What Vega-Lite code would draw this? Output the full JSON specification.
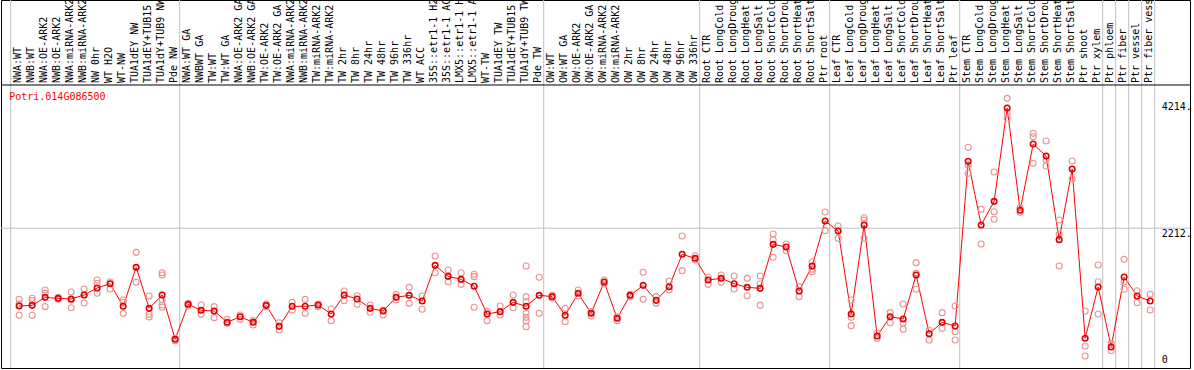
{
  "$schema": "https://vega.github.io/schema/vega-lite/v6.json",
  "width": 1189,
  "height": 368,
  "autosize": {"type": "none"},
  "padding": {"left": 1, "top": 0, "right": 4, "bottom": 2},
  "background": "white",
  "config": {
    "view": {"stroke": "black", "strokeWidth": 1},
    "font": "DejaVu Sans Mono"
  },
  "datasets": {
    "samples": [
      {"k": "00", "label": "NWA:WT", "mean": 916, "reps": [1027, 949, 761]},
      {"k": "01", "label": "NWB:WT", "mean": 927, "reps": [1044, 1005, 761]},
      {"k": "02", "label": "NWA:OE-ARK2", "mean": 1060, "reps": [1183, 1127, 905]},
      {"k": "03", "label": "NWB:OE-ARK2", "mean": 1044, "reps": [1060, 1027]},
      {"k": "04", "label": "NWA:miRNA-ARK2", "mean": 1033, "reps": [1149, 1016, 888]},
      {"k": "05", "label": "NWB:miRNA-ARK2", "mean": 1099, "reps": [1199, 1099, 966]},
      {"k": "06", "label": "NW 0hr", "mean": 1216, "reps": [1349, 1294, 1127]},
      {"k": "07", "label": "WT H2O", "mean": 1288, "reps": [1316, 1199]},
      {"k": "08", "label": "WT-NW", "mean": 911, "reps": [1016, 977, 794]},
      {"k": "09", "label": "TUA1dEY NW", "mean": 1560, "reps": [1810, 1310]},
      {"k": "10", "label": "TUA1dEY+TUB15 NW", "mean": 877, "reps": [1083, 777, 733]},
      {"k": "11", "label": "TUA1dY+TUB9 NW", "mean": 1099, "reps": [1471, 1432, 1016, 933, 894]},
      {"k": "12", "label": "Pde NW", "mean": 361, "reps": [378, 339]},
      {"k": "13", "label": "NWA:WT GA", "mean": 944, "reps": [960, 916]},
      {"k": "14", "label": "NWBWT GA", "mean": 844, "reps": [933, 777]},
      {"k": "15", "label": "TW:WT", "mean": 833, "reps": [905, 722]},
      {"k": "16", "label": "TW:WT GA", "mean": 644, "reps": [694, 627]},
      {"k": "17", "label": "NWA:OE-ARK2 GA", "mean": 738, "reps": [766, 694]},
      {"k": "18", "label": "NWB:OE-ARK2 GA", "mean": 644, "reps": [672, 600]},
      {"k": "19", "label": "TW:OE-ARK2", "mean": 927, "reps": [949, 905]},
      {"k": "20", "label": "TW:OE-ARK2 GA", "mean": 577, "reps": [638, 516]},
      {"k": "21", "label": "NWA:miRNA-ARK2", "mean": 911, "reps": [977, 849]},
      {"k": "22", "label": "NWB:miRNA-ARK2", "mean": 911, "reps": [1027, 794]},
      {"k": "23", "label": "TW:miRNA-ARK2", "mean": 933, "reps": [949, 905]},
      {"k": "24", "label": "TW:miRNA-ARK2", "mean": 783, "reps": [866, 672]},
      {"k": "25", "label": "TW 2hr", "mean": 1099, "reps": [1166, 1005]},
      {"k": "26", "label": "TW 8hr", "mean": 1033, "reps": [1088, 944]},
      {"k": "27", "label": "TW 24hr", "mean": 877, "reps": [933, 811]},
      {"k": "28", "label": "TW 48hr", "mean": 833, "reps": [849, 766]},
      {"k": "29", "label": "TW 96hr", "mean": 1060, "reps": [1110, 1016]},
      {"k": "30", "label": "TW 336hr", "mean": 1094, "reps": [1227, 960]},
      {"k": "31", "label": "WT ACC", "mean": 999, "reps": [1083, 861]},
      {"k": "32", "label": "35S::etr1-1 H2O", "mean": 1593, "reps": [1749, 1471]},
      {"k": "33", "label": "35S::etr1-1 ACC", "mean": 1410, "reps": [1516, 1321]},
      {"k": "34", "label": "LMX5::etr1-1 H2O", "mean": 1360, "reps": [1471, 1277]},
      {"k": "35", "label": "LMX5::etr1-1 ACC", "mean": 1244, "reps": [1444, 1405, 894]},
      {"k": "36", "label": "WT-TW", "mean": 783, "reps": [822, 672]},
      {"k": "37", "label": "TUA1dEY TW", "mean": 822, "reps": [916, 766]},
      {"k": "38", "label": "TUA1dEY+TUB15 TW", "mean": 977, "reps": [1099, 888]},
      {"k": "39", "label": "TUA1dY+TUB9 TW", "mean": 911, "reps": [1582, 1072, 988, 794, 727, 672, 572]},
      {"k": "40", "label": "Pde TW", "mean": 1094, "reps": [1394, 794]},
      {"k": "41", "label": "OW:WT", "mean": 1072, "reps": [1099, 1044]},
      {"k": "42", "label": "OW:WT GA", "mean": 761, "reps": [877, 655]},
      {"k": "43", "label": "OW:OE-ARK2", "mean": 1127, "reps": [1183, 1083]},
      {"k": "44", "label": "OW:OE-ARK2 GA", "mean": 794, "reps": [822, 750]},
      {"k": "45", "label": "OW:miRNA-ARK2", "mean": 1316, "reps": [1349, 1283]},
      {"k": "46", "label": "OW:miRNA-ARK2", "mean": 711, "reps": [738, 672]},
      {"k": "47", "label": "OW 2hr", "mean": 1094, "reps": [1110, 1072]},
      {"k": "48", "label": "OW 8hr", "mean": 1260, "reps": [1477, 1027]},
      {"k": "49", "label": "OW 24hr", "mean": 1010, "reps": [1072, 960]},
      {"k": "50", "label": "OW 48hr", "mean": 1238, "reps": [1332, 1183]},
      {"k": "51", "label": "OW 96hr", "mean": 1777, "reps": [2082, 1505]},
      {"k": "52", "label": "OW 336hr", "mean": 1710, "reps": [1754, 1682]},
      {"k": "53", "label": "Root CTR", "mean": 1349, "reps": [1394, 1277]},
      {"k": "54", "label": "Root LongCold", "mean": 1377, "reps": [1432, 1310]},
      {"k": "55", "label": "Root LongDrought", "mean": 1288, "reps": [1416, 1199]},
      {"k": "56", "label": "Root LongHeat", "mean": 1227, "reps": [1377, 1088]},
      {"k": "57", "label": "Root LongSalt", "mean": 1210, "reps": [1416, 1283, 927]},
      {"k": "58", "label": "Root ShortCold", "mean": 1943, "reps": [2115, 2015, 1727]},
      {"k": "59", "label": "Root ShortDrought", "mean": 1899, "reps": [1949, 1838]},
      {"k": "60", "label": "Root ShortHeat", "mean": 1166, "reps": [1238, 1072]},
      {"k": "61", "label": "Root ShortSalt", "mean": 1582, "reps": [1654, 1527, 1488]},
      {"k": "62", "label": "Ptr root", "mean": 2332, "reps": [2482, 2171]},
      {"k": "63", "label": "Leaf CTR", "mean": 2165, "reps": [2249, 2043]},
      {"k": "64", "label": "Leaf LongCold", "mean": 783, "reps": [1016, 727, 589]},
      {"k": "65", "label": "Leaf LongDrought", "mean": 2265, "reps": [2387, 2348, 2043]},
      {"k": "66", "label": "Leaf LongHeat", "mean": 416, "reps": [461, 378]},
      {"k": "67", "label": "Leaf LongSalt", "mean": 738, "reps": [805, 638]},
      {"k": "68", "label": "Leaf ShortCold", "mean": 700, "reps": [949, 627, 527]},
      {"k": "69", "label": "Leaf ShortDrought", "mean": 1432, "reps": [1638, 1460, 1194]},
      {"k": "70", "label": "Leaf ShortHeat", "mean": 455, "reps": [516, 350]},
      {"k": "71", "label": "Leaf ShortSalt", "mean": 644, "reps": [805, 544]},
      {"k": "72", "label": "Ptr leaf", "mean": 583, "reps": [916, 489, 350]},
      {"k": "73", "label": "Stem CTR", "mean": 3326, "reps": [3559, 3265, 3126]},
      {"k": "74", "label": "Stem LongCold", "mean": 2265, "reps": [2526, 1949]},
      {"k": "75", "label": "Stem LongDrought", "mean": 2659, "reps": [3148, 2487, 2360]},
      {"k": "76", "label": "Stem LongHeat", "mean": 4214, "reps": [4375, 4125, 4042]},
      {"k": "77", "label": "Stem LongSalt", "mean": 2510, "reps": [2554, 2476]},
      {"k": "78", "label": "Stem ShortCold", "mean": 3614, "reps": [3792, 3736, 3292]},
      {"k": "79", "label": "Stem ShortDrought", "mean": 3414, "reps": [3664, 3348, 3248]},
      {"k": "80", "label": "Stem ShortHeat", "mean": 2021, "reps": [2348, 2115, 1582]},
      {"k": "81", "label": "Stem ShortSalt", "mean": 3198, "reps": [3331, 3031]},
      {"k": "82", "label": "Ptr shoot", "mean": 378, "reps": [833, 250, 83]},
      {"k": "83", "label": "Ptr xylem", "mean": 1233, "reps": [1599, 1321, 783]},
      {"k": "84", "label": "Ptr phloem", "mean": 233, "reps": [294, 172]},
      {"k": "85", "label": "Ptr fiber", "mean": 1399, "reps": [1693, 1321, 1194]},
      {"k": "86", "label": "Ptr vessel", "mean": 1083, "reps": [1171, 972]},
      {"k": "87", "label": "Ptr fiber vessel", "mean": 999, "reps": [1110, 849]}
    ],
    "bounds": [
      {"k": "00"}, {"k": "13"}, {"k": "41"}, {"k": "53"}, {"k": "63"},
      {"k": "73"}, {"k": "84"}, {"k": "85"}, {"k": "86"}, {"k": "87"}
    ]
  },
  "layer": [
    {
      "data": {"name": "bounds"},
      "mark": {"type": "rule", "color": "#c0c0c0", "strokeWidth": 1},
      "encoding": {
        "x": {"field": "k", "type": "ordinal", "bandPosition": 0, "axis": null,
              "scale": {"type": "band", "paddingInner": 0, "paddingOuter": 0, "range": [9.7, 1153.7]}}
      }
    },
    {
      "data": {"values": [{"k": "87"}]},
      "mark": {"type": "rule", "color": "#c0c0c0", "strokeWidth": 1},
      "encoding": {
        "x": {"field": "k", "type": "ordinal", "bandPosition": 1, "axis": null}
      }
    },
    {
      "data": {"values": [{"v": 2212}]},
      "mark": {"type": "rule", "color": "#c0c0c0", "strokeWidth": 1},
      "encoding": {
        "y": {"field": "v", "type": "quantitative", "axis": null,
              "scale": {"domain": [-116.6, 6012.7], "nice": false, "zero": false}}
      }
    },
    {
      "data": {"values": [{"v": 4597}]},
      "mark": {"type": "rule", "color": "black", "strokeWidth": 1},
      "encoding": {
        "y": {"field": "v", "type": "quantitative", "axis": null}
      }
    },
    {
      "data": {"name": "samples"},
      "mark": {"type": "line", "color": "#ff0000", "strokeWidth": 1},
      "encoding": {
        "x": {"field": "k", "type": "ordinal", "bandPosition": 0.65, "axis": null},
        "y": {"field": "mean", "type": "quantitative", "axis": null}
      }
    },
    {
      "data": {"name": "samples"},
      "transform": [{"flatten": ["reps"]}],
      "mark": {"type": "point", "shape": "circle", "filled": false, "color": "#e89494", "strokeWidth": 1.1, "size": 36, "opacity": 1},
      "encoding": {
        "x": {"field": "k", "type": "ordinal", "bandPosition": 0.65, "axis": null},
        "y": {"field": "reps", "type": "quantitative", "axis": null}
      }
    },
    {
      "data": {"name": "samples"},
      "mark": {"type": "point", "shape": "circle", "filled": false, "color": "#e00000", "strokeWidth": 1.6, "size": 30, "opacity": 1},
      "encoding": {
        "x": {"field": "k", "type": "ordinal", "bandPosition": 0.65, "axis": null},
        "y": {"field": "mean", "type": "quantitative", "axis": null}
      }
    },
    {
      "data": {"name": "samples"},
      "mark": {"type": "text", "angle": 270, "align": "left", "baseline": "middle", "dx": 2,
               "font": "DejaVu Sans Mono", "fontSize": 10, "color": "black"},
      "encoding": {
        "x": {"field": "k", "type": "ordinal", "bandPosition": 0.55, "axis": null},
        "y": {"datum": 4597, "type": "quantitative", "axis": null},
        "text": {"field": "label"}
      }
    },
    {
      "data": {"values": [{"k": "00", "gene": "Potri.014G086500"}]},
      "mark": {"type": "text", "align": "left", "baseline": "middle", "dx": -1.5,
               "font": "DejaVu Sans Mono", "fontSize": 10, "color": "#ff0000"},
      "encoding": {
        "x": {"field": "k", "type": "ordinal", "bandPosition": 0, "axis": null},
        "y": {"datum": 4397, "type": "quantitative", "axis": null},
        "text": {"field": "gene"}
      }
    },
    {
      "data": {"values": [{"k": "87", "v": 4214, "t": "4214."}, {"k": "87", "v": 0, "t": "0"}]},
      "mark": {"type": "text", "align": "left", "baseline": "middle", "dx": 7, "dy": -1,
               "font": "DejaVu Sans Mono", "fontSize": 10, "color": "black"},
      "encoding": {
        "x": {"field": "k", "type": "ordinal", "bandPosition": 1, "axis": null},
        "y": {"field": "v", "type": "quantitative", "axis": null},
        "text": {"field": "t"}
      }
    },
    {
      "data": {"values": [{"k": "87", "v": 2212, "t": "2212."}]},
      "mark": {"type": "text", "align": "left", "baseline": "top", "dx": 7, "dy": 1,
               "font": "DejaVu Sans Mono", "fontSize": 10, "color": "black"},
      "encoding": {
        "x": {"field": "k", "type": "ordinal", "bandPosition": 1, "axis": null},
        "y": {"field": "v", "type": "quantitative", "axis": null},
        "text": {"field": "t"}
      }
    }
  ]
}
